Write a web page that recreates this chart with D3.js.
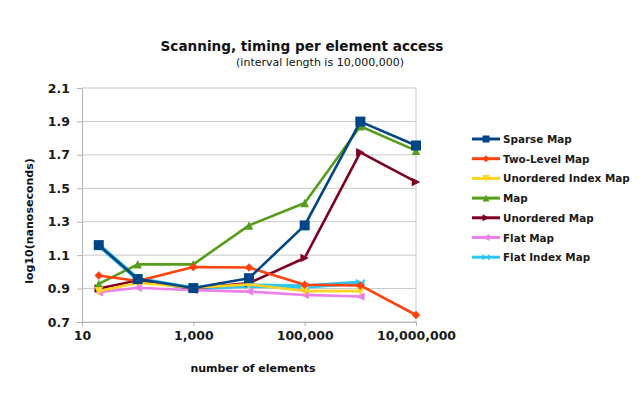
<!DOCTYPE html>
<html>
<head>
<meta charset="utf-8">
<script src="https://cdn.jsdelivr.net/npm/d3@7"></script>
<style>
  body { margin: 0; background: #fff; }
  text { font-family: "DejaVu Sans", sans-serif; }
</style>
</head>
<body>
<svg id="chart" width="640" height="395"></svg>
<script>
// element counts (x) and log10(ns) per series
var sizes = [20, 100, 1000, 10000, 100000, 1000000, 10000000]
var seriesNames = ['Sparse Map', 'Two-Level Map', 'Unordered Index Map', 'Map', 'Unordered Map', 'Flat Map', 'Flat Index Map']
var sparseMap = [1.16, 0.957, 0.903, 0.962, 1.278, 1.899, 1.756]
var twoLevelMap = [0.978, 0.945, 1.029, 1.026, 0.923, 0.919, 0.742]
var unorderedIndexMap = [0.884, 0.935, 0.905, 0.925, 0.885, 0.885]
var map = [0.928, 1.045, 1.045, 1.278, 1.412, 1.871, 1.725]
var unorderedMap = [0.9, 0.948, 0.9, 0.933, 1.083, 1.715, 1.538]
var flatMap = [0.878, 0.905, 0.89, 0.882, 0.862, 0.853]
var flatIndexMap = [1.16, 0.957, 0.9, 0.918, 0.912, 0.935]
var yTicks = [0.7, 0.9, 1.1, 1.3, 1.5, 1.7, 1.9, 2.1]
var xTicks = [10, 1000, 100000, 10000000]

var colors = ['#004586', '#ff420e', '#ffd320', '#579d1c', '#7e0021', '#ec7fe9', '#2ec6f2']
var symbols = ['square', 'diamond', 'down', 'up', 'right', 'left', 'bowtie']
var allValues = [sparseMap, twoLevelMap, unorderedIndexMap, map, unorderedMap, flatMap, flatIndexMap]

var svg = d3.select('#chart')
var x = d3.scaleLog().domain([10, 10000000]).range([82, 416])
var y = d3.scaleLinear().domain([0.7, 2.1]).range([322, 88])

// horizontal grid
svg.append('g').selectAll('line').data(yTicks).enter().append('line')
  .attr('x1', 82).attr('x2', 416)
  .attr('y1', function(d) { return y(d) }).attr('y2', function(d) { return y(d) })
  .attr('stroke', '#c8c8c8').attr('stroke-width', 1)
svg.append('line').attr('x1', 416).attr('x2', 416).attr('y1', 88).attr('y2', 322)
  .attr('stroke', '#c8c8c8')

var yAxis = svg.append('g').attr('transform', 'translate(82,0)')
  .call(d3.axisLeft(y).tickValues(yTicks).tickFormat(d3.format('.1f')).tickSize(5).tickPadding(7))
var xAxis = svg.append('g').attr('transform', 'translate(0,322)')
  .call(d3.axisBottom(x).tickValues(xTicks).tickFormat(d3.format(',')).tickSize(4).tickPadding(5))
svg.selectAll('.domain').attr('stroke', '#b3b3b3')
svg.selectAll('.tick line').attr('stroke', '#b3b3b3')
svg.selectAll('.tick text').attr('font-family', 'DejaVu Sans').attr('font-weight', 'bold')
  .attr('font-size', 12.5).attr('fill', '#1a1a1a')

function markerPath(type, s) {
  var h = s / 2
  if (type === 'square') return 'M' + -h + ',' + -h + 'H' + h + 'V' + h + 'H' + -h + 'Z'
  if (type === 'diamond') return 'M0,' + -h + 'L' + h + ',0L0,' + h + 'L' + -h + ',0Z'
  if (type === 'down') return 'M' + -h + ',' + -h + 'H' + h + 'L0,' + h + 'Z'
  if (type === 'up') return 'M' + -h + ',' + h + 'H' + h + 'L0,' + -h + 'Z'
  if (type === 'right') return 'M' + -h + ',' + -h + 'L' + h + ',0L' + -h + ',' + h + 'Z'
  if (type === 'left') return 'M' + h + ',' + -h + 'L' + -h + ',0L' + h + ',' + h + 'Z'
  return 'M' + -h + ',' + -h + 'L0,0L' + -h + ',' + h + 'Z M' + h + ',' + -h + 'L0,0L' + h + ',' + h + 'Z'
}

var line = d3.line()
  .x(function(d, i) { return x(sizes[i]) })
  .y(function(d) { return y(d) })

// draw last series first so Sparse Map ends on top
for (var k = allValues.length - 1; k >= 0; k--) {
  var g = svg.append('g')
  g.append('path').datum(allValues[k]).attr('d', line)
    .attr('fill', 'none').attr('stroke', colors[k]).attr('stroke-width', k === 6 ? 4.5 : 2.6)
    .attr('stroke-linejoin', 'round')
  g.selectAll('path.m').data(allValues[k]).enter().append('path').attr('class', 'm')
    .attr('transform', function(d, i) { return 'translate(' + x(sizes[i]) + ',' + y(d) + ')' })
    .attr('d', markerPath(symbols[k], k === 0 ? 10 : 8.5))
    .attr('fill', colors[k])
}

// legend
var legend = svg.append('g').attr('transform', 'translate(472,139)')
seriesNames.forEach(function(name, i) {
  var row = legend.append('g').attr('transform', 'translate(0,' + (i * 19.7) + ')')
  row.append('line').attr('x1', 0).attr('x2', 28).attr('y1', 0).attr('y2', 0)
    .attr('stroke', colors[i]).attr('stroke-width', 3)
  row.append('path').attr('transform', 'translate(14,0)').attr('d', markerPath(symbols[i], 7))
    .attr('fill', colors[i])
  row.append('text').attr('x', 31).attr('y', 4).attr('font-size', 10.4)
    .attr('font-family', 'DejaVu Sans').attr('font-weight', 'bold').attr('fill', '#1a1a1a')
    .text(name)
})

svg.append('text').attr('x', 302).attr('y', 51).attr('text-anchor', 'middle')
  .attr('font-family', 'DejaVu Sans Condensed').attr('font-weight', 'bold').attr('font-size', 13.6)
  .attr('fill', '#111').text('Scanning, timing per element access')
svg.append('text').attr('x', 320).attr('y', 66).attr('text-anchor', 'middle')
  .attr('font-family', 'Liberation Sans').attr('font-size', 11)
  .attr('fill', '#111').text('(interval length is 10,000,000)')
svg.append('text').attr('transform', 'translate(33,221) rotate(-90)').attr('text-anchor', 'middle')
  .attr('font-family', 'DejaVu Sans Condensed').attr('font-weight', 'bold').attr('font-size', 11)
  .attr('fill', '#111').text('log10(nanoseconds)')
svg.append('text').attr('x', 253).attr('y', 372).attr('text-anchor', 'middle')
  .attr('font-family', 'DejaVu Sans Condensed').attr('font-weight', 'bold').attr('font-size', 11)
  .attr('fill', '#111').text('number of elements')
</script>
</body>
</html>
